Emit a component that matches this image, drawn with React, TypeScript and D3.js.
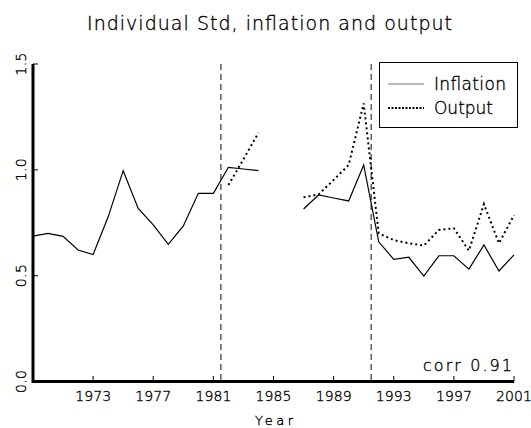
import React, { useEffect, useRef } from 'react';
import * as d3 from 'd3';

const years = d3.range(1969, 2002);

// standard deviations, null = missing
const inflation: (number | null)[] = [
  0.687, 0.700, 0.686, 0.621, 0.600, 0.778, 0.996, 0.818, 0.740, 0.648, 0.735,
  0.889, 0.889, 1.012, 1.004, 0.996, null, null, 0.815, 0.881, 0.867, 0.853,
  1.023, 0.660, 0.577, 0.587, 0.498, 0.594, 0.594, 0.531, 0.645, 0.522, 0.598,
];

const output: (number | null)[] = [
  null, null, null, null, null, null, null, null, null, null, null,
  null, null, 0.928, 1.050, 1.175, null, null, 0.870, 0.884, 0.952, 1.023,
  1.314, 0.700, 0.668, 0.653, 0.642, 0.716, 0.724, 0.618, 0.838, 0.653, 0.786,
];

const xTicks = [1973, 1977, 1981, 1985, 1989, 1993, 1997, 2001];
const yTicks = [0, 0.5, 1.0, 1.5];
const breaks = [1981.5, 1991.5];
const corrLabel = 'corr 0.91';

const FONT = '"DejaVu Sans", sans-serif';

// thin stroke-font look: extra light face, darkened with a hairline stroke
function styleText(sel: d3.Selection<SVGTextElement, any, any, any>, size: number) {
  sel.attr('font-family', FONT).attr('font-size', size)
    .attr('font-weight', 200)
    .attr('fill', '#000').attr('stroke', '#000').attr('stroke-width', 0.35)
    .attr('lengthAdjust', 'spacing');
}

export default function App() {
  const svgRef = useRef<SVGSVGElement>(null);

  useEffect(() => {
    if (!svgRef.current) return;
    const svg = d3.select(svgRef.current);
    svg.selectAll('*').remove();

    const x = d3.scaleLinear().domain([1969, 2001]).range([33, 514]);
    const y = d3.scaleLinear().domain([0, 1.5]).range([381.5, 64]);

    // title
    svg.append('text')
      .attr('x', 269.5).attr('y', 30)
      .attr('text-anchor', 'middle')
      .call(styleText, 19)
      .attr('textLength', 365)
      .text('Individual Std, inflation and output');

    // break lines
    svg.append('g').selectAll('line')
      .data(breaks)
      .enter().append('line')
      .attr('x1', d => x(d)).attr('x2', d => x(d))
      .attr('y1', y(1.5)).attr('y2', y(0))
      .attr('stroke', '#444').attr('stroke-width', 1.3)
      .attr('stroke-dasharray', '6,4');

    const line = d3.line<number | null>()
      .defined(d => d != null)
      .x((_, i) => x(years[i]))
      .y(d => y(d as number));

    svg.append('path')
      .datum(inflation)
      .attr('d', line)
      .attr('fill', 'none').attr('stroke', '#000').attr('stroke-width', 1.2);

    svg.append('path')
      .datum(output)
      .attr('d', line)
      .attr('fill', 'none').attr('stroke', '#000').attr('stroke-width', 2)
      .attr('stroke-dasharray', '2,3');

    // axes: thick left and bottom, inward ticks
    const xAxis = svg.append('g');
    xAxis.append('line')
      .attr('x1', 33).attr('x2', 514).attr('y1', 381.5).attr('y2', 381.5)
      .attr('stroke', '#000').attr('stroke-width', 3);
    xAxis.selectAll('line.tick')
      .data(xTicks).enter().append('line')
      .attr('class', 'tick')
      .attr('x1', d => x(d)).attr('x2', d => x(d))
      .attr('y1', 381.5).attr('y2', 376)
      .attr('stroke', '#000').attr('stroke-width', 1);
    xAxis.selectAll('text')
      .data(xTicks).enter().append('text')
      .attr('x', d => x(d)).attr('y', 400.5)
      .attr('text-anchor', 'middle')
      .call(styleText, 14)
      .attr('textLength', 36)
      .text(d => String(d));

    const yAxis = svg.append('g');
    yAxis.append('line')
      .attr('x1', 33).attr('x2', 33).attr('y1', y(1.5)).attr('y2', y(0) + 1.5)
      .attr('stroke', '#000').attr('stroke-width', 3);
    yAxis.selectAll('line.tick')
      .data(yTicks).enter().append('line')
      .attr('class', 'tick')
      .attr('x1', 33).attr('x2', 38)
      .attr('y1', d => y(d)).attr('y2', d => y(d))
      .attr('stroke', '#000').attr('stroke-width', 1);
    yAxis.selectAll('text')
      .data(yTicks).enter().append('text')
      .attr('transform', d => `translate(26,${y(d)}) rotate(-90)`)
      .attr('text-anchor', 'middle')
      .call(styleText, 14)
      .attr('textLength', 23)
      .text(d => d.toFixed(1));

    svg.append('text')
      .attr('x', 274).attr('y', 425)
      .attr('text-anchor', 'middle')
      .call(styleText, 13)
      .attr('textLength', 38)
      .text('Year');

    svg.append('text')
      .attr('x', 512).attr('y', 371)
      .attr('text-anchor', 'end')
      .call(styleText, 16)
      .attr('textLength', 89)
      .text(corrLabel);

    // legend
    const lg = svg.append('g');
    lg.append('rect')
      .attr('x', 379.5).attr('y', 62.5).attr('width', 138).attr('height', 65)
      .attr('fill', '#fff').attr('stroke', '#000').attr('stroke-width', 1);
    const items = [
      { name: 'Inflation', dash: null, width: 1.2, yy: 84, ty: 90, len: 72 },
      { name: 'Output', dash: '2,1.5', width: 2, yy: 108, ty: 114, len: 59 },
    ];
    items.forEach(it => {
      const l = lg.append('line')
        .attr('x1', 388).attr('x2', 424).attr('y1', it.yy).attr('y2', it.yy)
        .attr('stroke', it.dash ? '#000' : '#777').attr('stroke-width', it.width);
      if (it.dash) l.attr('stroke-dasharray', it.dash);
      lg.append('text')
        .attr('x', 434).attr('y', it.ty)
        .call(styleText, 17)
        .attr('textLength', it.len)
        .text(it.name);
    });
  }, []);

  return (
    <svg
      ref={svgRef}
      width={531}
      height={428}
      style={{ position: 'absolute', left: 0, top: 0, background: '#fff' }}
    />
  );
}
